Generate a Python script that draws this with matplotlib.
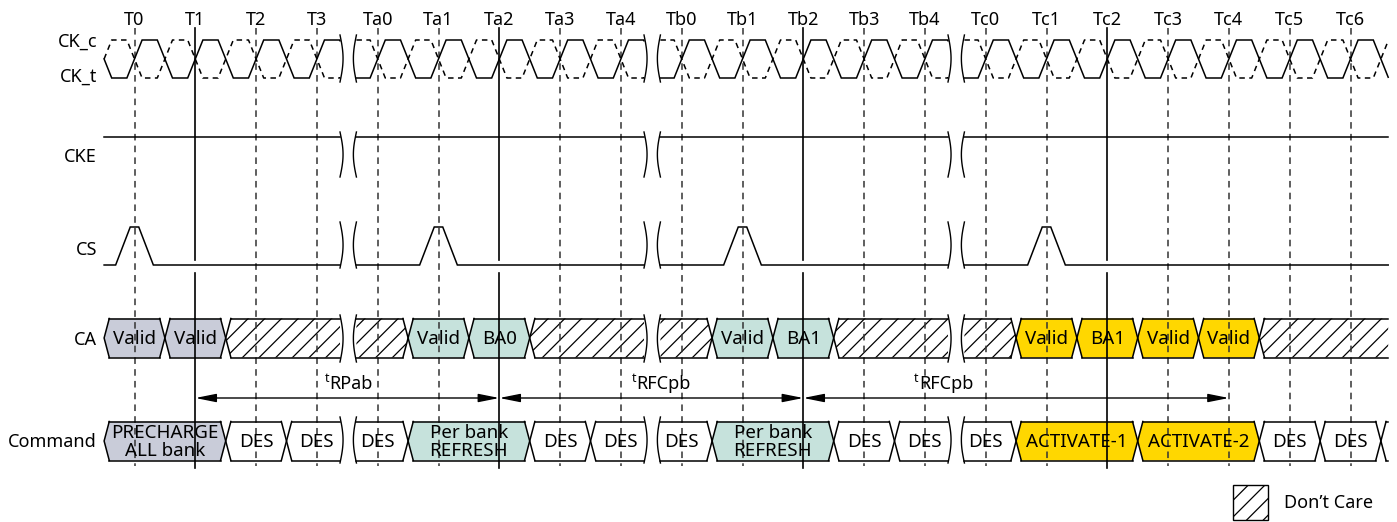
import matplotlib
matplotlib.use("Agg")
import matplotlib.pyplot as plt
import numpy as np
from matplotlib.patches import Polygon, Rectangle

plt.rcParams["font.family"] = ["Noto Sans", "DejaVu Sans"]
plt.rcParams["hatch.linewidth"] = 0.9

# ── Datos del diagrama ─────────────────────────────────────────────────────────
TICKS = ["T0", "T1", "T2", "T3", "Ta0", "Ta1", "Ta2", "Ta3", "Ta4",
         "Tb0", "Tb1", "Tb2", "Tb3", "Tb4",
         "Tc0", "Tc1", "Tc2", "Tc3", "Tc4", "Tc5", "Tc6"]
SOLID_TICKS = ["T1", "Ta2", "Tb2", "Tc2"]
BREAKS = [3.5, 8.5, 13.5]          # cortes de tiempo (en ciclos)
CS_PULSES = ["T0", "Ta1", "Tb1", "Tc1"]
T_START, T_END = -0.5, 20.62

SIGNALS = ["CK_c", "CK_t", "CKE", "CS", "CA", "Command"]

CA_START = [-0.5, 0.5, 1.5, 3.5, 4.5, 5.5, 6.5, 8.5, 9.5, 10.5, 11.5,
            13.5, 14.5, 15.5, 16.5, 17.5, 18.5]
CA_LABELS = ["Valid", "Valid", None, None, "Valid", "BA0", None, None,
             "Valid", "BA1", None, None, "Valid", "BA1", "Valid", "Valid", None]
CA_KIND = ["pre", "pre", "dc", "dc", "ref", "ref", "dc", "dc", "ref", "ref",
           "dc", "dc", "act", "act", "act", "act", "dc"]

CMD_START = [-0.5, 1.5, 2.5, 3.5, 4.5, 6.5, 7.5, 8.5, 9.5, 11.5, 12.5,
             13.5, 14.5, 16.5, 18.5, 19.5, 20.5]
CMD_LABELS = ["PRECHARGE\nALL bank", "DES", "DES", "DES", "Per bank\nREFRESH",
              "DES", "DES", "DES", "Per bank\nREFRESH", "DES", "DES", "DES",
              "ACTIVATE-1", "ACTIVATE-2", "DES", "DES", ""]
CMD_KIND = ["pre", "des", "des", "des", "ref", "des", "des", "des", "ref",
            "des", "des", "des", "act", "act", "des", "des", "des"]

TIMING_FROM = ["T1", "Ta2", "Tb2"]
TIMING_TO = ["Ta2", "Tb2", "Tc4"]
TIMING_NAME = ["RPab", "RFCpb", "RFCpb"]
TIMING_LABEL_X = [3.2, 8.26, 12.9]

COLORS = {"pre": "#c9ccd9", "ref": "#c6e2dc", "act": "#ffd700",
          "des": "white", "dc": "white"}

# ── Layout (px) ────────────────────────────────────────────────────────────────
W, H = 1397, 522
PX0, PX_CYCLE = 134.5, 60.8


def cx(p):
    return (p - PX0) / PX_CYCLE


CK_HI, CK_LO = 40, 78
CKE_Y = 137
CS_HI, CS_LO = 227, 265
CA_Y, CMD_Y, BUS_H = 338, 441, 19.5
ARROW_Y = 398
LABEL_Y = [47, 82, 162, 255, 345, 447]
BREAK_SPANS = [(35, 82), (132, 177), (222, 268), (315, 362), (417, 463)]
GAPS = [(b - 0.12, b + 0.15) for b in BREAKS]
EDGE = 0.25     # flanco de reloj
TAPER = 0.085   # biselado de las celdas del bus
FS = 13
FS_BUS = 13.5
LW = 1.1

fig = plt.figure(figsize=(W / 100, H / 100), dpi=100)
ax = fig.add_axes([0, 0, 1, 1])
ax.set_xlim(cx(0), cx(W))
ax.set_ylim(H, 0)
ax.axis("off")


def segments(a, b):
    segs, cur = [], a
    for g0, g1 in GAPS:
        if g1 <= cur or g0 >= b:
            continue
        if g0 > cur:
            segs.append((cur, g0))
        cur = max(cur, g1)
    if cur < b:
        segs.append((cur, b))
    return segs


def plot_wave(ts, vs, **kw):
    ts, vs = np.asarray(ts), np.asarray(vs)
    for s0, s1 in segments(T_START, T_END):
        inner = ts[(ts > s0) & (ts < s1)]
        t = np.concatenate([[s0], inner, [s1]])
        ax.plot(t, np.interp(t, ts, vs), color="black", lw=LW,
                solid_joinstyle="miter", **kw)


# ── Líneas verticales de referencia ────────────────────────────────────────────
for i, name in enumerate(TICKS):
    ax.text(i, 20, name, ha="center", va="center", fontsize=FS)
    if name in SOLID_TICKS:
        ax.plot([i, i], [28, 260], color="black", lw=1.2)
        ax.plot([i, i], [273, 468], color="black", lw=1.2)
    else:
        ax.plot([i, i], [28, 466], color="#333333", lw=1.1, dashes=(4.3, 3.4))

# ── Reloj ──────────────────────────────────────────────────────────────────────
for inv in (False, True):
    ts, vs = [], []
    for k in range(-2, 23):
        for c, rising in ((k - 0.5, False), (k, True)):
            ts += [c - EDGE / 2, c + EDGE / 2]
            vs += [CK_LO, CK_HI] if rising != inv else [CK_HI, CK_LO]
    if inv:
        plot_wave(ts, vs, dashes=(3.6, 2.9))
    else:
        plot_wave(ts, vs)

# ── CKE ────────────────────────────────────────────────────────────────────────
plot_wave([-2, 23], [CKE_Y, CKE_Y])

# ── CS ─────────────────────────────────────────────────────────────────────────
ts, vs = [-2], [CS_LO]
for p in CS_PULSES:
    i = TICKS.index(p)
    ts += [i - 0.31, i - 0.07, i + 0.07, i + 0.31]
    vs += [CS_LO, CS_HI, CS_HI, CS_LO]
ts.append(23)
vs.append(CS_LO)
plot_wave(ts, vs)


# ── Buses CA / Command ─────────────────────────────────────────────────────────
def draw_bus(starts, labels, kinds, yc):
    ends = starts[1:] + [T_END]
    top, bot = yc - BUS_H, yc + BUS_H
    for a, b, lab, kind in zip(starts, ends, labels, kinds):
        for s0, s1 in segments(a, b):
            tl = s0 == a
            tr = s1 == b and b != T_END
            lx = s0 + TAPER if tl else s0
            rx = s1 - TAPER if tr else s1
            pts = ([(s0, yc)] if tl else [(s0, bot)]) + [(lx, top), (rx, top)]
            pts += ([(s1, yc)] if tr else []) + [(rx, bot), (lx, bot)]
            ax.add_patch(Polygon(pts, closed=True, facecolor=COLORS[kind],
                                 edgecolor="black", lw=0,
                                 hatch="//" if kind == "dc" else None))
            ax.plot([lx, rx], [top, top], color="black", lw=LW)
            ax.plot([lx, rx], [bot, bot], color="black", lw=LW)
            if tl:
                ax.plot([lx, s0, lx], [top, yc, bot], color="black", lw=LW)
            if tr:
                ax.plot([rx, s1, rx], [top, yc, bot], color="black", lw=LW)
        if lab:
            ax.text((a + b) / 2, yc + 1, lab, ha="center", va="center",
                    fontsize=FS_BUS, linespacing=0.95)


draw_bus(CA_START, CA_LABELS, CA_KIND, CA_Y)
draw_bus(CMD_START, CMD_LABELS, CMD_KIND, CMD_Y)

# ── Marcas de corte ────────────────────────────────────────────────────────────
u = np.linspace(0, 1, 60)
for g0, g1 in GAPS:
    for y0, y1 in BREAK_SPANS:
        yy = y0 + (y1 - y0) * u
        ax.plot(g0 + 0.05 * np.sin(np.pi * u), yy, color="black", lw=1.0)
        ax.plot(g1 - 0.05 * np.sin(np.pi * u), yy, color="black", lw=1.0)

# ── Flechas de temporización ──────────────────────────────────────────────────
for t0, t1, name, lx in zip(TIMING_FROM, TIMING_TO, TIMING_NAME, TIMING_LABEL_X):
    ax.annotate("", xy=(TICKS.index(t1), ARROW_Y),
                xytext=(TICKS.index(t0), ARROW_Y),
                arrowprops=dict(arrowstyle="<|-|>,head_length=0.9,head_width=0.18",
                                mutation_scale=14, color="black", lw=1,
                                shrinkA=0, shrinkB=0))
    ax.text(lx, 389, name, ha="left", va="baseline", fontsize=FS)
    ax.text(lx, 382, "t", ha="right", va="baseline", fontsize=9)

# ── Nombres de señales ────────────────────────────────────────────────────────
for name, y in zip(SIGNALS, LABEL_Y):
    ax.text(cx(97), y, name, ha="right", va="baseline", fontsize=FS)

# ── Leyenda ───────────────────────────────────────────────────────────────────
ax.add_patch(Rectangle((cx(1233), 485), cx(1268) - cx(1233), 35,
                       facecolor="white", edgecolor="black", lw=1, hatch="//"))
ax.text(cx(1284), 503, "Don\u2019t Care", ha="left", va="center", fontsize=FS)

fig.savefig("out.png", dpi=100)
plt.close()
